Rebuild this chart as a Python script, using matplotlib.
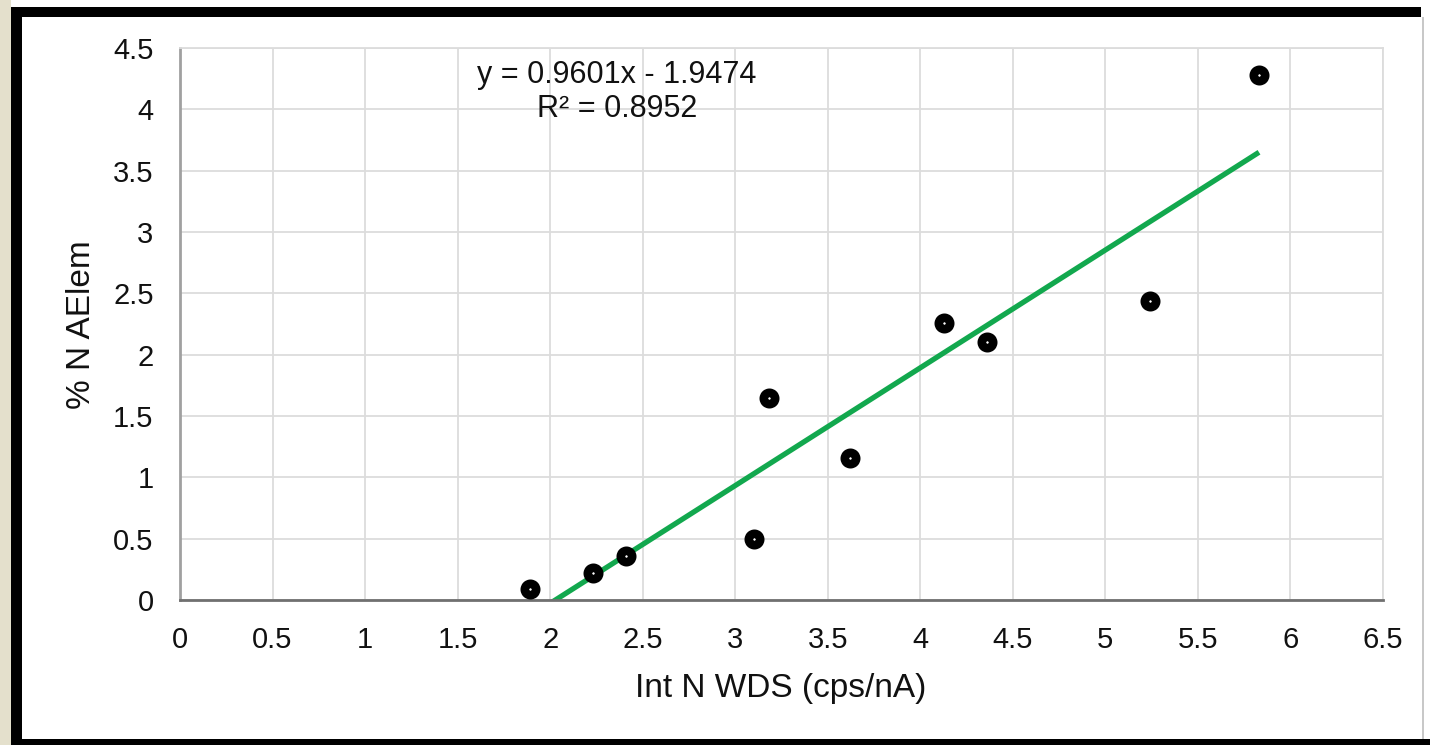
import matplotlib.pyplot as plt
import numpy as np
from matplotlib.patches import Rectangle

# data
int_n_wds = [1.89, 2.23, 2.41, 3.10, 3.18, 3.62, 4.13, 4.36, 5.24, 5.83]
pct_n_aelem = [0.09, 0.22, 0.36, 0.50, 1.65, 1.16, 2.26, 2.10, 2.44, 4.28]
slope = 0.9601
intercept = -1.9474
r2 = 0.8952
xticks = np.arange(0, 6.51, 0.5)
yticks = np.arange(0, 4.51, 0.5)

plt.rcParams['font.family'] = ['Liberation Sans', 'DejaVu Sans']

W, H = 1430, 745
fig = plt.figure(figsize=(W / 100, H / 100), dpi=100, facecolor='white')

# frame around the chart (slide-like border)
def px_rect(x0, y0, x1, y1, color):
    fig.patches.append(Rectangle((x0 / W, 1 - y1 / H), (x1 - x0) / W, (y1 - y0) / H,
                                 transform=fig.transFigure, facecolor=color,
                                 edgecolor='none', zorder=0))

px_rect(0, 0, 11, H, '#e4e0cc')
px_rect(11, 7, 22, 745, 'black')
px_rect(11, 7, 1421, 17, 'black')
px_rect(11, 739, 1430, 745, 'black')
px_rect(1422, 17, 1424, 739, '#c8c8c8')

ax = fig.add_axes([180 / W, 1 - 600 / H, (1383 - 180) / W, (600 - 48) / H])
ax.set_xlim(0, 6.5)
ax.set_ylim(0, 4.5)
ax.set_xticks(xticks)
ax.set_yticks(yticks)
ax.set_xticklabels(['%g' % v for v in xticks])
ax.set_yticklabels(['%g' % v for v in yticks])
ax.tick_params(length=0, labelsize=21, colors='#111111')
ax.tick_params(axis='x', pad=19)
ax.tick_params(axis='y', pad=19)
ax.grid(True, color='#dcdcdc', lw=1.3)
ax.set_axisbelow(True)
for s in ['top', 'right']:
    ax.spines[s].set_color('#dcdcdc')
    ax.spines[s].set_linewidth(1.3)
ax.spines['left'].set_color('#a0a0a0')
ax.spines['left'].set_linewidth(2)
ax.spines['bottom'].set_color('#707070')
ax.spines['bottom'].set_linewidth(2)

# linear trendline across the data range
xl = np.array([min(int_n_wds), max(int_n_wds)])
ax.plot(xl, slope * xl + intercept, color='#12a84e', lw=3.8, zorder=2,
        solid_capstyle='butt')

ax.plot(int_n_wds, pct_n_aelem, 'o', ms=8.2, mew=6.2, mfc='white', mec='black',
        zorder=3, clip_on=False)

ax.text(2.36, 4.14, 'y = %.4fx - %.4f\nR² = %.4f' % (slope, -intercept, r2),
        ha='center', va='center', fontsize=22, color='#111111', linespacing=1.2)

fig.text(781 / W, 1 - 688 / H, 'Int N WDS (cps/nA)', ha='center', va='center',
         fontsize=24, color='#111111')
fig.text(82 / W, 1 - 325 / H, '% N AElem', ha='center', va='center',
         rotation=90, fontsize=24, color='#111111')

fig.savefig('out.png', dpi=100, facecolor='white')
